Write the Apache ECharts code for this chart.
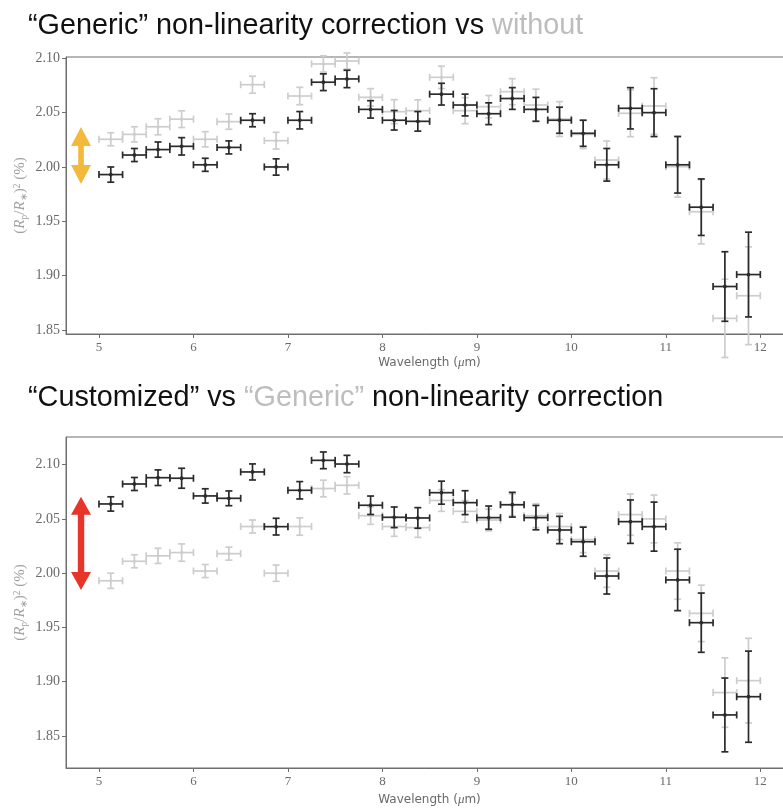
<!DOCTYPE html>
<html>
<head>
<meta charset="utf-8">
<script src="https://cdn.jsdelivr.net/npm/echarts@6/dist/echarts.min.js"></script>
<style>
  html, body { margin: 0; padding: 0; background: #fff; }
  #chart { width: 783px; height: 808px; }
</style>
</head>
<body>
<div id="chart"></div>
<script>
// Spectral bins (µm): centres and half-width
const wavelength = [5.125, 5.375, 5.625, 5.875, 6.125, 6.375, 6.625, 6.875, 7.125, 7.375,
  7.625, 7.875, 8.125, 8.375, 8.625, 8.875, 9.125, 9.375, 9.625, 9.875,
  10.125, 10.375, 10.625, 10.875, 11.125, 11.375, 11.625, 11.875];
const binHalfWidth = 0.125;

// Transit depth (Rp/R*)^2 in %, with 1-sigma errors
const withoutDepth = [2.0255, 2.030, 2.037, 2.044, 2.0255, 2.0417, 2.0757, 2.0242, 2.0653, 2.0948,
  2.0975, 2.0641, 2.0509, 2.0518, 2.0825, 2.0518, 2.0555, 2.0693, 2.057, 2.0441,
  2.030, 2.0064, 2.0494, 2.0561, 2.0003, 1.9588, 1.8607, 1.8815];
const withoutErr = [0.006, 0.007, 0.0074, 0.0077, 0.007, 0.007, 0.0078, 0.0077, 0.008, 0.0075,
  0.0074, 0.008, 0.011, 0.010, 0.0103, 0.012, 0.0103, 0.012, 0.0146, 0.016,
  0.013, 0.0175, 0.0215, 0.026, 0.028, 0.0296, 0.036, 0.045];

const genericDepth = [1.993, 2.011, 2.016, 2.019, 2.002, 2.018, 2.043, 2.000, 2.043, 2.078,
  2.081, 2.053, 2.043, 2.042, 2.067, 2.057, 2.049, 2.063, 2.053, 2.043,
  2.031, 2.002, 2.054, 2.050, 2.002, 1.963, 1.890, 1.901];
const genericErr = [0.007, 0.006, 0.007, 0.008, 0.006, 0.006, 0.006, 0.0075, 0.008, 0.0077,
  0.008, 0.008, 0.009, 0.009, 0.010, 0.010, 0.010, 0.010, 0.011, 0.012,
  0.012, 0.015, 0.019, 0.022, 0.026, 0.026, 0.032, 0.039];

const customizedDepth = [2.0638, 2.0822, 2.088, 2.0875, 2.0712, 2.069, 2.0933, 2.0429, 2.0764, 2.104,
  2.1006, 2.0626, 2.0515, 2.0509, 2.0742, 2.065, 2.0512, 2.0631, 2.0512, 2.0398,
  2.029, 1.9974, 2.0475, 2.0429, 1.9938, 1.9544, 1.8694, 1.8862];
const customizedErr = [0.0066, 0.006, 0.0072, 0.0092, 0.0066, 0.0068, 0.0074, 0.0077, 0.008, 0.0077,
  0.008, 0.0085, 0.0095, 0.0095, 0.0106, 0.011, 0.0107, 0.0114, 0.0112, 0.0126,
  0.0134, 0.0166, 0.020, 0.0226, 0.0283, 0.0273, 0.034, 0.042];

// Axis tick labels
const xTicks = [5, 6, 7, 8, 9, 10, 11, 12];
const yTicks = [1.85, 1.90, 1.95, 2.00, 2.05, 2.10];

// Offset arrows: [x, upper tip, lower tip] in data units
const topArrow = [4.81, 2.0368, 1.9843];
const bottomArrow = [4.81, 2.0705, 1.9845];

const GRAY_TEXT = '#6a6a6a';
const FRAME = '#6e6e6e';

function rows(depth, err) {
  return wavelength.map((w, i) => [w, depth[i], err[i]]);
}

// Draws a cross-shaped error bar with caps and a centre dot
function errorBars(color, width, dot) {
  return function (params, api) {
    const x = api.value(0), y = api.value(1), e = api.value(2);
    const c = api.coord([x, y]);
    const l = api.coord([x - binHalfWidth, y]);
    const r = api.coord([x + binHalfWidth, y]);
    const t = api.coord([x, y + e]);
    const b = api.coord([x, y - e]);
    const cap = 3.5;
    const st = { stroke: color, lineWidth: width, fill: null };
    const line = (x1, y1, x2, y2) => ({ type: 'line', shape: { x1, y1, x2, y2 }, style: st });
    const children = [
      line(l[0], l[1], r[0], r[1]),
      line(t[0], t[1], b[0], b[1]),
      line(l[0], l[1] - cap, l[0], l[1] + cap),
      line(r[0], r[1] - cap, r[0], r[1] + cap),
      line(t[0] - cap, t[1], t[0] + cap, t[1]),
      line(b[0] - cap, b[1], b[0] + cap, b[1]),
      { type: 'circle', shape: { cx: c[0], cy: c[1], r: dot }, style: { fill: color } }
    ];
    return { type: 'group', children };
  };
}

// Double-headed arrow between two depths
function doubleArrow(color, shaftHalf, headHalf, headLen) {
  return function (params, api) {
    const p1 = api.coord([api.value(0), api.value(1)]);
    const p2 = api.coord([api.value(0), api.value(2)]);
    const x = p1[0], y1 = p1[1], y2 = p2[1];
    const pts = [
      [x, y1], [x + headHalf, y1 + headLen], [x + shaftHalf, y1 + headLen],
      [x + shaftHalf, y2 - headLen], [x + headHalf, y2 - headLen], [x, y2],
      [x - headHalf, y2 - headLen], [x - shaftHalf, y2 - headLen],
      [x - shaftHalf, y1 + headLen], [x - headHalf, y1 + headLen]
    ];
    return { type: 'polygon', shape: { points: pts }, style: { fill: color } };
  };
}

function xAxis(gridIndex, nameGap) {
  return {
    type: 'value', gridIndex, min: 4.651, max: 12.346,
    axisLine: { show: true, lineStyle: { color: FRAME, width: 1 } },
    axisTick: { show: true, length: 4, customValues: xTicks, lineStyle: { color: FRAME } },
    axisLabel: { customValues: xTicks, color: GRAY_TEXT, fontFamily: 'Liberation Serif', fontSize: 13, margin: 7 },
    splitLine: { show: false },
    name: '{n|Wavelength (}{m|μ}{n|m)}',
    nameLocation: 'middle', nameGap,
    nameTextStyle: {
      rich: {
        n: { fontFamily: 'DejaVu Sans', fontSize: 12, color: GRAY_TEXT },
        m: { fontFamily: 'Liberation Serif', fontStyle: 'italic', fontSize: 13, color: GRAY_TEXT }
      }
    }
  };
}

function yAxis(gridIndex, min, max) {
  return {
    type: 'value', gridIndex, min, max,
    axisLine: { show: true, lineStyle: { color: FRAME, width: 1 } },
    axisTick: { show: true, length: 4, customValues: yTicks, lineStyle: { color: FRAME } },
    axisLabel: {
      customValues: yTicks, color: GRAY_TEXT, fontFamily: 'Liberation Serif', fontSize: 14, margin: 6,
      formatter: v => v.toFixed(2)
    },
    splitLine: { show: false },
    name: '{p|(}{i|R}{s|p}{p|/}{i|R}{s|∗}{p|)}{u|2}{p| (%)}',
    nameLocation: 'middle', nameGap: 37, nameRotate: 90, nameMoveOverlap: false,
    nameTextStyle: {
      rich: {
        p: { fontFamily: 'Liberation Serif', fontSize: 15, color: '#a0a0a0' },
        i: { fontFamily: 'Liberation Serif', fontStyle: 'italic', fontSize: 15, color: '#a0a0a0' },
        s: { fontFamily: 'Liberation Serif', fontSize: 10, color: '#a0a0a0', verticalAlign: 'bottom', padding: [7, 0, 0, 0] },
        u: { fontFamily: 'Liberation Serif', fontSize: 10, color: '#a0a0a0', verticalAlign: 'top', padding: [0, 0, 7, 0] }
      }
    }
  };
}

const titleRich = {
  k: { fontFamily: 'Liberation Sans', fontSize: 28.8, fontWeight: 'normal', color: '#111' },
  g: { fontFamily: 'Liberation Sans', fontSize: 28.8, fontWeight: 'normal', color: '#bdbdbd' }
};

const chart = echarts.init(document.getElementById('chart'), null, { renderer: 'canvas' });
chart.setOption({
  animation: false,
  backgroundColor: '#fff',
  title: [
    { text: '{k|“Generic” non-linearity correction vs }{g|without}', left: 23, top: 7,
      textStyle: { fontWeight: 'normal', rich: titleRich } },
    { text: '{k|“Customized” vs }{g|“Generic”}{k| non-linearity correction}', left: 23, top: 379,
      textStyle: { fontWeight: 'normal', rich: titleRich } }
  ],
  grid: [
    { left: 66, top: 57, width: 727, height: 277, outerBoundsMode: 'none',
      show: true, borderColor: FRAME, borderWidth: 1 },
    { left: 66, top: 437, width: 727, height: 331, outerBoundsMode: 'none',
      show: true, borderColor: FRAME, borderWidth: 1 }
  ],
  xAxis: [xAxis(0, 22), xAxis(1, 25)],
  yAxis: [yAxis(0, 1.8463, 2.1012), yAxis(1, 1.8205, 2.1255)],
  series: [
    { type: 'custom', name: 'without', xAxisIndex: 0, yAxisIndex: 0, clip: false,
      data: rows(withoutDepth, withoutErr), renderItem: errorBars('#cdcdcd', 1.7, 1.6) },
    { type: 'custom', name: 'Generic', xAxisIndex: 0, yAxisIndex: 0, clip: false,
      data: rows(genericDepth, genericErr), renderItem: errorBars('#2b2b2b', 1.7, 1.9) },
    { type: 'custom', name: 'offset', xAxisIndex: 0, yAxisIndex: 0, clip: false,
      data: [topArrow], renderItem: doubleArrow('#f2b93b', 2.8, 10, 19) },
    { type: 'custom', name: 'Generic', xAxisIndex: 1, yAxisIndex: 1, clip: false,
      data: rows(genericDepth, genericErr), renderItem: errorBars('#cdcdcd', 1.7, 1.6) },
    { type: 'custom', name: 'Customized', xAxisIndex: 1, yAxisIndex: 1, clip: false,
      data: rows(customizedDepth, customizedErr), renderItem: errorBars('#2b2b2b', 1.7, 1.9) },
    { type: 'custom', name: 'offset', xAxisIndex: 1, yAxisIndex: 1, clip: false,
      data: [bottomArrow], renderItem: doubleArrow('#e8352a', 3.2, 10, 18) }
  ]
});
</script>
</body>
</html>
